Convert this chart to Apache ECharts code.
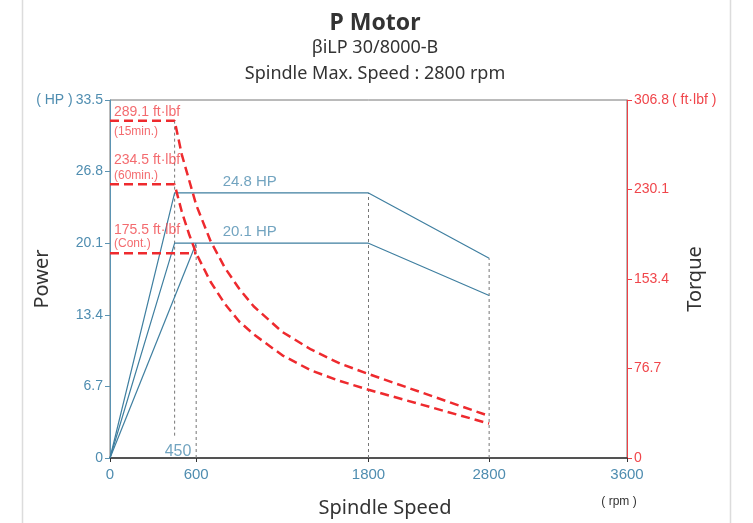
<!DOCTYPE html>
<html>
<head>
<meta charset="UTF-8">
<title>P Motor</title>
<style>
  html, body { margin: 0; padding: 0; background: #fff; }
  #main { width: 753px; height: 523px; }
</style>
</head>
<body>
<div id="main"></div>
<script src="https://cdn.jsdelivr.net/npm/echarts@6/dist/echarts.min.js"></script>
<script>
// axis ticks
var speedTicks = [0, 600, 1800, 2800, 3600];
var powerMax = 33.5, powerStep = 6.7;
var torqueMax = 306.8, torqueStep = 76.7;

// power (HP) vs spindle speed (rpm)
var power15Speed = [0, 450, 1800, 2800];
var power15 = [0, 24.8, 24.8, 18.7];
var power60Speed = [0, 450, 1800, 2800];
var power60 = [0, 20.1, 20.1, 15.2];
var powerContSpeed = [0, 600];
var powerCont = [0, 20.1];

// torque (ft·lbf) vs spindle speed (rpm)
var torque15Speed = [0, 450, 500, 600, 700, 800, 900, 1000, 1200, 1400, 1600, 1800, 2800];
var torque15 = [289.1, 289.1, 260, 217, 186, 163, 145, 130, 108, 93, 81, 72, 36];
var torque60Speed = [0, 450, 500, 550, 600, 700, 800, 900, 1000, 1200, 1400, 1600, 1800, 2800];
var torque60 = [234.5, 234.5, 211, 192, 175.5, 151, 132, 117, 106, 88, 75, 66, 58.5, 29.5];
var torqueContSpeed = [0, 600];
var torqueCont = [175.5, 175.5];

// text notes
var torqueNoteValue = [289.1, 234.5, 175.5];
var torqueNote = ['289.1 ft·lbf', '234.5 ft·lbf', '175.5 ft·lbf'];
var torqueNoteSub = ['(15min.)', '(60min.)', '(Cont.)'];
var powerNoteValue = [24.8, 20.1];
var powerNote = ['24.8 HP', '20.1 HP'];

// the drawing squeezes 1800-2800 rpm and stretches 2800-3600 rpm
var speedKnots = [0, 1800, 2800, 3600];
var axisKnots = [0, 1800, 2640, 3600];
function toAxis(rpm) {
    for (var i = 1; i < speedKnots.length; i++) {
        if (rpm <= speedKnots[i]) {
            var t = (rpm - speedKnots[i - 1]) / (speedKnots[i] - speedKnots[i - 1]);
            return axisKnots[i - 1] + t * (axisKnots[i] - axisKnots[i - 1]);
        }
    }
    return axisKnots[axisKnots.length - 1];
}
function pairs(xs, ys) {
    return xs.map(function (x, i) { return [toAxis(x), ys[i]]; });
}

var blue = '#3f7fa0';
var blueText = '#4f8db0';
var red = '#ee2a2e';
var redText = '#f0464b';
var dark = '#333';
var numFont = '"Liberation Sans", Arial, sans-serif';
var txtFont = '"Noto Sans", "Open Sans", sans-serif';

var tickPos = speedTicks.map(toAxis);

function powerLine(name, data) {
    return {
        name: name, type: 'line', yAxisIndex: 0, data: data,
        showSymbol: false, silent: true, z: 3,
        lineStyle: { color: blue, width: 1.2 }
    };
}
function torqueLine(name, data) {
    return {
        name: name, type: 'line', yAxisIndex: 1, data: data,
        showSymbol: false, silent: true, z: 5,
        lineStyle: { color: red, width: 2.5, type: [9, 5] }
    };
}
function guide(rpm, from, to, axis) {
    return {
        type: 'line', yAxisIndex: axis, showSymbol: false, silent: true, z: 2,
        data: [[toAxis(rpm), from], [toAxis(rpm), to]],
        lineStyle: { color: '#777', width: 1, type: [3, 3] }
    };
}
function notes(axis, xs, ys, texts, size, color, dx, dys) {
    return {
        type: 'scatter', yAxisIndex: axis, symbolSize: 0, silent: true, z: 6,
        data: ys.map(function (y, i) {
            return {
                value: [toAxis(xs[i]), y],
                label: { position: [dx, dys[i]] }
            };
        }),
        label: {
            show: true, color: color, fontSize: size, fontFamily: numFont,
            formatter: function (p) { return texts[p.dataIndex]; }
        }
    };
}

var chart = echarts.init(document.getElementById('main'));
chart.setOption({
    animation: false,
    grid: {
        left: 110, right: 126, top: 100, bottom: 65,
        containLabel: false, outerBoundsMode: 'none',
        show: true, borderColor: '#777', borderWidth: 1
    },
    xAxis: {
        type: 'value', min: 0, max: 3600,
        splitLine: { show: false },
        axisLine: { lineStyle: { color: dark, width: 1.5 } },
        axisTick: { show: true, length: 4, lineStyle: { color: dark }, customValues: tickPos },
        axisLabel: {
            customValues: tickPos, color: blueText, fontSize: 15, fontFamily: numFont, margin: 9,
            formatter: function (v) {
                var i = tickPos.indexOf(v);
                return i >= 0 ? String(speedTicks[i]) : '';
            }
        }
    },
    yAxis: [{
        type: 'value', min: 0, max: powerMax, interval: powerStep, position: 'left',
        name: 'Power', nameLocation: 'middle', nameGap: 58, nameMoveOverlap: false,
        nameTextStyle: { color: dark, fontSize: 20, fontFamily: txtFont },
        splitLine: { show: false },
        axisLine: { show: true, lineStyle: { color: '#5b93b2', width: 1 } },
        axisTick: { show: true, length: 5, lineStyle: { color: '#5b93b2' } },
        axisLabel: {
            color: blueText, fontSize: 14, fontFamily: numFont, margin: 7,
            formatter: function (v) {
                return Math.abs(v - powerMax) < 1e-6 ? '{u|( HP )}' + v : String(v);
            },
            rich: { u: { color: blueText, fontSize: 14, fontFamily: numFont, padding: [0, 3, 0, 0] } }
        }
    }, {
        type: 'value', min: 0, max: torqueMax, interval: torqueStep, position: 'right',
        name: 'Torque', nameLocation: 'middle', nameGap: 58, nameMoveOverlap: false,
        nameTextStyle: { color: dark, fontSize: 20, fontFamily: txtFont },
        splitLine: { show: false },
        axisLine: { show: true, lineStyle: { color: '#f04046', width: 1 } },
        axisTick: { show: true, length: 5, lineStyle: { color: '#f04046' } },
        axisLabel: {
            color: redText, fontSize: 14, fontFamily: numFont, margin: 7,
            formatter: function (v) {
                return Math.abs(v - torqueMax) < 1e-6 ? v + '{u|( ft·lbf )}' : String(v);
            },
            rich: { u: { color: redText, fontSize: 14, fontFamily: numFont, padding: [0, 0, 0, 3] } }
        }
    }],
    graphic: [
        { type: 'line', shape: { x1: 22.5, y1: 0, x2: 22.5, y2: 523 }, style: { stroke: '#dcdcdc', lineWidth: 1.5 } },
        { type: 'line', shape: { x1: 730.5, y1: 0, x2: 730.5, y2: 523 }, style: { stroke: '#dcdcdc', lineWidth: 1.5 } },
        { type: 'text', x: 375, y: 23, style: { text: 'P Motor', font: 'bold 23px ' + txtFont, fill: dark, align: 'center', verticalAlign: 'middle' } },
        { type: 'text', x: 375, y: 48, style: { text: 'βiLP 30/8000-B', font: '18px ' + txtFont, fill: dark, align: 'center', verticalAlign: 'middle' } },
        { type: 'text', x: 375, y: 74, style: { text: 'Spindle Max. Speed : 2800 rpm', font: '18px ' + txtFont, fill: dark, align: 'center', verticalAlign: 'middle' } },
        { type: 'text', x: 385, y: 508, style: { text: 'Spindle Speed', font: '20px ' + txtFont, fill: dark, align: 'center', verticalAlign: 'middle' } },
        { type: 'text', x: 619, y: 502, style: { text: '( rpm )', font: '12px ' + numFont, fill: dark, align: 'center', verticalAlign: 'middle' } }
    ],
    series: [
        guide(450, 289.1, 17, 1),
        guide(600, 0, 20.1, 0),
        guide(1800, 0, 24.8, 0),
        guide(2800, 0, 18.7, 0),
        powerLine('15min', pairs(power15Speed, power15)),
        powerLine('60min', pairs(power60Speed, power60)),
        powerLine('Cont.', pairs(powerContSpeed, powerCont)),
        torqueLine('15min', pairs(torque15Speed, torque15)),
        torqueLine('60min', pairs(torque60Speed, torque60)),
        torqueLine('Cont.', pairs(torqueContSpeed, torqueCont)),
        notes(1, [0, 0, 0], torqueNoteValue, torqueNote, 14, redText, 4, [-16, -31, -30]),
        notes(1, [0, 0, 0], torqueNoteValue, torqueNoteSub, 12, redText, 4, [5, -15, -16]),
        notes(0, [450, 450], powerNoteValue, powerNote, 15, blueText, 48, [-19, -19]),
        notes(0, [450], [0], ['450'], 16, blueText, -10, [-14])
    ]
});
</script>
</body>
</html>
